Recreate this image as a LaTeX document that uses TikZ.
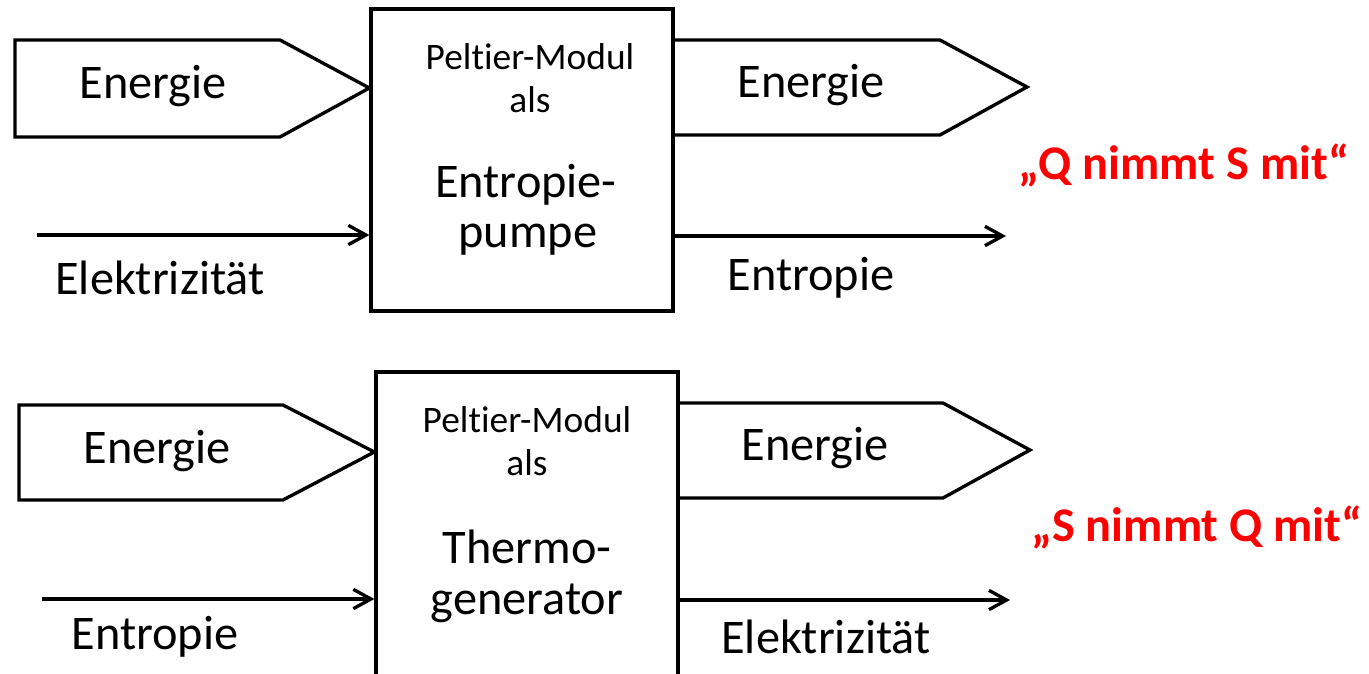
\documentclass[tikz,border=0pt]{standalone}
\usepackage{fontspec}
\setmainfont{Carlito}[Ligatures=NoCommon]
\usetikzlibrary{arrows.meta,positioning,calc}

\begin{document}
\begin{tikzpicture}[
    x=0.02cm, y=-0.02cm,
    line width=1.9pt,
    every node/.style={font=\fontsize{27.5}{31}\selectfont},
    modul/.style={draw, minimum width=6.04cm, minimum height=6.04cm, inner sep=0pt},
    klein/.style={font=\fontsize{21.3}{25}\selectfont},
    spruch/.style={text=red, font=\fontsize{27.5}{31}\selectfont\bfseries},
    flow/.style={-{Straight Barb[length=10pt, width=11pt, line width=1.9pt]}}
]
\useasboundingbox (0,0) rectangle (1369,673);
\clip (0,0) rectangle (1369,673);

% Upper panel: Peltier-Modul as entropy pump
\node[modul] (pumpe) at (522,160) {};
\node[klein] (pm1) at (530,57) {Peltier-Modul};
\node[klein] (als1) at (530,100) {als};
\node (ep1) at (526,185) {Entropie-};
\node (ep2) at (528,240) {pumpe};

\draw (15,40) -- (280,40) -- (pumpe.west |- 0,88) -- (280,137) -- (15,137) -- cycle;
\node (ein1) at (153,86) {Energie};
\draw (pumpe.east |- 0,40) -- (940,40) -- (1027,87) -- (940,135) -- (pumpe.east |- 0,135);
\node (aus1) at (811,85) {Energie};

\coordinate (el1) at (37,235);
\draw[flow] (el1) -- (el1 -| pumpe.west);
\node (elab1) at (160,278) {Elektrizität};
\coordinate (en1) at (1006,236);
\draw[flow] (en1 -| pumpe.east) -- (en1);
\node (enlab1) at (811,278) {Entropie};

\node[spruch] (q1) at (1184,165) {„Q nimmt S mit“};

% Lower panel: Peltier-Modul as thermogenerator (cut off at the bottom)
\node[modul, minimum height=6.4cm] (thermo) at (527,532) {};
\node[klein] (pm2) at (527,420) {Peltier-Modul};
\node[klein] (als2) at (527,463) {als};
\node (tg1) at (527,547) {Thermo-};
\node (tg2) at (527,603) {generator};

\draw (19,405) -- (283,405) -- (thermo.west |- 0,452) -- (283,500) -- (19,500) -- cycle;
\node (ein2) at (157,451) {Energie};
\draw (thermo.east |- 0,403) -- (943,403) -- (1030,450) -- (943,498) -- (thermo.east |- 0,498);
\node (aus2) at (815,448) {Energie};

\coordinate (en2) at (42,599);
\draw[flow] (en2) -- (en2 -| thermo.west);
\node (enlab2) at (155,637) {Entropie};
\coordinate (el2) at (1010,600);
\draw[flow] (el2 -| thermo.east) -- (el2);
\node (elab2) at (826,637) {Elektrizität};

\node[spruch] (q2) at (1197,527) {„S nimmt Q mit“};

\end{tikzpicture}
\end{document}
